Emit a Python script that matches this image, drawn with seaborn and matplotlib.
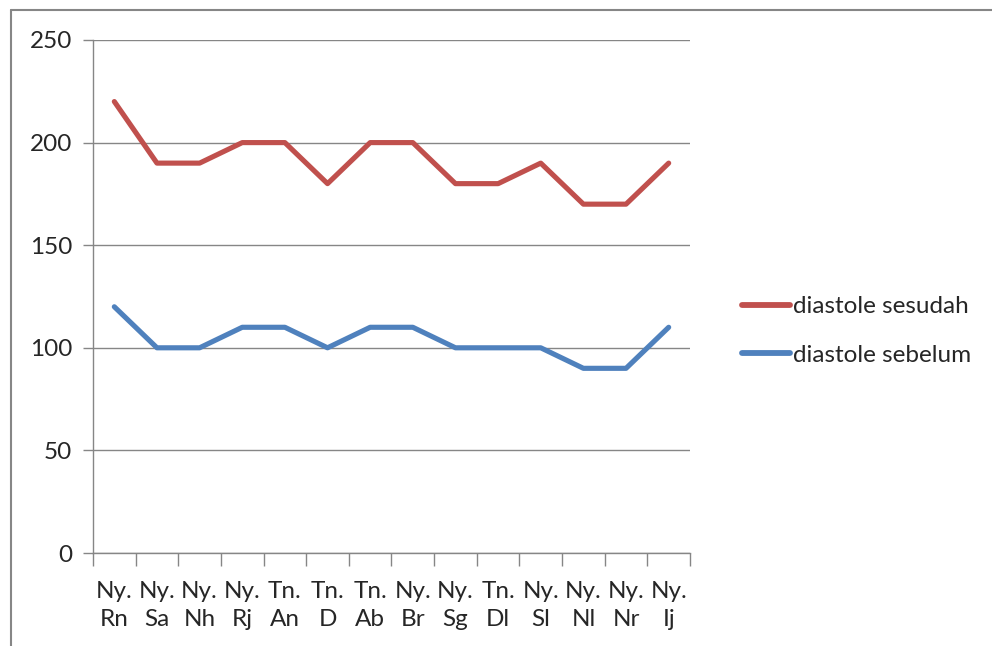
import matplotlib
matplotlib.use('Agg')
import matplotlib.pyplot as plt
from matplotlib.lines import Line2D
import pandas as pd
import seaborn as sns

# data
categories = ['Ny.\nRn', 'Ny.\nSa', 'Ny.\nNh', 'Ny.\nRj', 'Tn.\nAn', 'Tn.\nD', 'Tn.\nAb',
              'Ny.\nBr', 'Ny.\nSg', 'Tn.\nDl', 'Ny.\nSl', 'Ny.\nNl', 'Ny.\nNr', 'Ny.\nIj']
sesudah = [220, 190, 190, 200, 200, 180, 200, 200, 180, 180, 190, 170, 170, 190]
sebelum = [120, 100, 100, 110, 110, 100, 110, 110, 100, 100, 100, 90, 90, 110]
yticks = [0, 50, 100, 150, 200, 250]

sns.set_theme(style='white')
plt.rcParams['font.family'] = ['Lato', 'DejaVu Sans']

df = pd.DataFrame({'pos': list(range(len(categories))) * 2,
                   'value': sesudah + sebelum,
                   'series': ['diastole sesudah'] * len(categories) + ['diastole sebelum'] * len(categories)})

fig = plt.figure(figsize=(9.92, 6.46), dpi=100)
ax = fig.add_axes([93 / 992, 1 - 553 / 646, (690 - 93) / 992, (553 - 40) / 646])

sns.lineplot(data=df, x='pos', y='value', hue='series',
             palette={'diastole sesudah': '#C0504D', 'diastole sebelum': '#4F81BD'},
             linewidth=3.7, ax=ax, legend=True)
for ln in ax.get_lines():
    ln.set_solid_capstyle('round')
    ln.set_solid_joinstyle('round')

ax.set_xlim(-0.5, len(categories) - 0.5)
ax.set_ylim(0, 250)
ax.set_yticks(yticks)
ax.set_xticks(range(len(categories)))
ax.set_xticklabels(categories, fontsize=17.5, linespacing=1.45)
ax.set_xticks([i - 0.5 for i in range(len(categories) + 1)], minor=True)
ax.tick_params(axis='x', which='major', length=0, pad=20)
ax.tick_params(axis='x', which='minor', length=9, width=1, color='#868686', direction='out', bottom=True)
ax.tick_params(axis='y', length=7, width=1, color='#868686', direction='out', left=True, labelsize=17.5, pad=8)
ax.grid(axis='y', color='#868686', linewidth=1)
ax.set_axisbelow(True)
for s in ['top', 'right']:
    ax.spines[s].set_visible(False)
for s in ['left', 'bottom']:
    ax.spines[s].set_color('#868686')
    ax.spines[s].set_linewidth(1)
ax.set_xlabel('')
ax.set_ylabel('')

leg = ax.legend(loc='center left', bbox_to_anchor=(730 / 992, 1 - 331 / 646), bbox_transform=fig.transFigure,
                frameon=False, fontsize=17.5, handlelength=1.95, handletextpad=0.15, labelspacing=1.15, borderpad=0)
for h in leg.get_lines():
    h.set_linewidth(4.2)
    h.set_solid_capstyle('round')

# outer border lines
fig.add_artist(Line2D([11 / 992, 1], [1 - 10 / 646, 1 - 10 / 646], color='#868686', linewidth=1.5))
fig.add_artist(Line2D([11 / 992, 11 / 992], [0, 1 - 10 / 646], color='#868686', linewidth=1.5))

plt.savefig('out.png', dpi=100)
